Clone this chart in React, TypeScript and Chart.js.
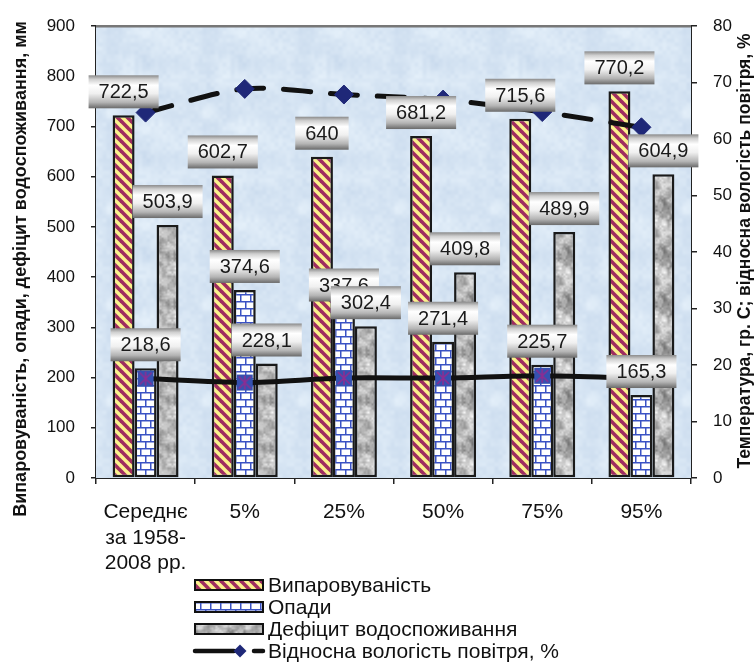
import React, { useEffect, useRef } from "react";
import { Chart, registerables } from "chart.js";

Chart.register(...registerables);

const categories: (string | string[])[] = [["Середнє", "за 1958-", "2008 рр."], "5%", "25%", "50%", "75%", "95%"];
const evaporation = [722.5, 602.7, 640, 681.2, 715.6, 770.2];
const precipitation = [218.6, 374.6, 337.6, 271.4, 225.7, 165.3];
const deficit = [503.9, 228.1, 302.4, 409.8, 489.9, 604.9];
const humidity = [64.7, 68.9, 67.9, 67.0, 64.8, 62.1];
const temperature = [17.6, 16.9, 17.7, 17.7, 18.1, 17.6];
const seriesNames = [
  "Випаровуваність",
  "Опади",
  "Дефіцит водоспоживання",
  "Відносна вологість повітря, %",
  "Температура, гр. С",
];
const leftTitle = "Випаровуваність, опади, дефіцит водоспоживання, мм";
const rightTitle = "Температура, гр. С; відносна вологість повітря, %";
const leftMin = 0;
const leftMax = 900;
const leftStep = 100;
const rightMin = 0;
const rightMax = 80;
const rightStep = 10;

const FONT = "'Liberation Sans', Arial, Helvetica, sans-serif";

function hash(x: number, y: number, s: number): number {
  let h = (Math.imul(x, 374761393) + Math.imul(y, 668265263) + Math.imul(s, 1274126177)) | 0;
  h = Math.imul(h ^ (h >>> 13), 1274126177);
  h ^= h >>> 16;
  return (h >>> 0) / 4294967295;
}

function valueNoise(size: number, cell: number, seed: number): Float32Array {
  const g = Math.round(size / cell);
  const out = new Float32Array(size * size);
  for (let y = 0; y < size; y++) {
    for (let x = 0; x < size; x++) {
      const gx = x / cell;
      const gy = y / cell;
      const i0 = Math.floor(gx);
      const j0 = Math.floor(gy);
      let fx = gx - i0;
      let fy = gy - j0;
      fx = fx * fx * (3 - 2 * fx);
      fy = fy * fy * (3 - 2 * fy);
      const i1 = (i0 + 1) % g;
      const j1 = (j0 + 1) % g;
      const a = hash(i0 % g, j0 % g, seed);
      const b = hash(i1, j0 % g, seed);
      const c = hash(i0 % g, j1, seed);
      const d = hash(i1, j1, seed);
      out[y * size + x] = (a * (1 - fx) + b * fx) * (1 - fy) + (c * (1 - fx) + d * fx) * fy;
    }
  }
  return out;
}

function makeTile(w: number, h: number): [HTMLCanvasElement, CanvasRenderingContext2D] {
  const c = document.createElement("canvas");
  c.width = w;
  c.height = h;
  return [c, c.getContext("2d")!];
}

function stripeTile(): HTMLCanvasElement {
  const [c, g] = makeTile(10, 10);
  g.fillStyle = "#fbf18c";
  g.fillRect(0, 0, 10, 10);
  g.strokeStyle = "#9e2d5f";
  g.lineWidth = 3.6;
  for (const o of [-10, 0, 10]) {
    g.beginPath();
    g.moveTo(o - 2, -2);
    g.lineTo(o + 12, 12);
    g.stroke();
  }
  return c;
}

function brickTile(): HTMLCanvasElement {
  const [c, g] = makeTile(20, 14);
  g.fillStyle = "#ffffff";
  g.fillRect(0, 0, 20, 14);
  g.strokeStyle = "#3a52c4";
  g.lineWidth = 1.5;
  g.beginPath();
  g.moveTo(0, 0.75);
  g.lineTo(20, 0.75);
  g.moveTo(0, 7.75);
  g.lineTo(20, 7.75);
  g.moveTo(0.75, 0);
  g.lineTo(0.75, 7);
  g.moveTo(10.75, 0);
  g.lineTo(10.75, 7);
  g.moveTo(5.75, 7);
  g.lineTo(5.75, 14);
  g.moveTo(15.75, 7);
  g.lineTo(15.75, 14);
  g.stroke();
  return c;
}

function grayTile(): HTMLCanvasElement {
  const size = 48;
  const [c, g] = makeTile(size, size);
  const n1 = valueNoise(size, 8, 3);
  const n2 = valueNoise(size, 4, 7);
  const n3 = valueNoise(size, 2, 11);
  const img = g.createImageData(size, size);
  for (let i = 0; i < size * size; i++) {
    const v = 0.5 * n1[i] + 0.3 * n2[i] + 0.2 * n3[i];
    const k = Math.max(70, Math.min(245, 95 + v * 175));
    img.data[i * 4] = k;
    img.data[i * 4 + 1] = k;
    img.data[i * 4 + 2] = k;
    img.data[i * 4 + 3] = 255;
  }
  g.putImageData(img, 0, 0);
  return c;
}

function bgTile(): HTMLCanvasElement {
  const size = 96;
  const [c, g] = makeTile(size, size);
  const n1 = valueNoise(size, 16, 21);
  const n2 = valueNoise(size, 4, 23);
  const img = g.createImageData(size, size);
  for (let i = 0; i < size * size; i++) {
    const v = 0.65 * n1[i] + 0.35 * n2[i] - 0.5;
    img.data[i * 4] = 216 + v * 30;
    img.data[i * 4 + 1] = 230 + v * 24;
    img.data[i * 4 + 2] = 244 + v * 14;
    img.data[i * 4 + 3] = 255;
  }
  g.putImageData(img, 0, 0);
  return c;
}

function tempMarker(): HTMLCanvasElement {
  const [c, g] = makeTile(18, 18);
  g.fillStyle = "#3551b0";
  g.fillRect(1, 1, 16, 16);
  g.strokeStyle = "#8e2d92";
  g.lineWidth = 1.6;
  g.beginPath();
  g.moveTo(3, 3);
  g.lineTo(15, 15);
  g.moveTo(15, 3);
  g.lineTo(3, 15);
  g.moveTo(9, 2);
  g.lineTo(9, 16);
  g.stroke();
  return c;
}

function fmt(v: number): string {
  return String(v).replace(".", ",");
}

export default function App() {
  const ref = useRef<HTMLCanvasElement>(null);

  useEffect(() => {
    document.body.style.margin = "0";
    const canvas = ref.current!;
    const ctx0 = canvas.getContext("2d")!;
    const stripes = ctx0.createPattern(stripeTile(), "repeat")!;
    const bricks = ctx0.createPattern(brickTile(), "repeat")!;
    const gray = ctx0.createPattern(grayTile(), "repeat")!;
    const bg = ctx0.createPattern(bgTile(), "repeat")!;
    const marker = tempMarker();
    const patterns = [stripes, bricks, gray];

    const decor = {
      id: "decor",
      beforeDatasetsDraw(chart: any) {
        const { ctx, chartArea: a } = chart;
        ctx.save();
        ctx.fillStyle = bg;
        ctx.fillRect(a.left, a.top, a.right - a.left, a.bottom - a.top);
        ctx.strokeStyle = "#777";
        ctx.lineWidth = 2.5;
        ctx.beginPath();
        ctx.moveTo(a.left, a.top);
        ctx.lineTo(a.right, a.top);
        ctx.stroke();
        ctx.restore();
      },
      afterDatasetsDraw(chart: any) {
        const { ctx } = chart;
        ctx.save();
        ctx.font = `20px ${FONT}`;
        ctx.textAlign = "center";
        ctx.textBaseline = "middle";
        for (let d = 0; d < 3; d++) {
          const meta = chart.getDatasetMeta(d);
          const values = chart.data.datasets[d].data as number[];
          meta.data.forEach((el: any, i: number) => {
            const txt = fmt(values[i]);
            const tw = ctx.measureText(txt).width;
            const w = tw + 20;
            const h = 33;
            const bottom = el.y - 7;
            const top = bottom - h;
            const left = el.x - w / 2;
            const gr = ctx.createLinearGradient(0, top, 0, bottom);
            gr.addColorStop(0, "#8a8a8a");
            gr.addColorStop(0.12, "#cfcfcf");
            gr.addColorStop(0.3, "#ffffff");
            gr.addColorStop(0.55, "#f0f0f0");
            gr.addColorStop(0.82, "#b4b4b4");
            gr.addColorStop(1, "#6a6a6a");
            ctx.fillStyle = gr;
            ctx.fillRect(left, top, w, h);
            ctx.fillStyle = "#1a1a1a";
            ctx.fillText(txt, el.x, top + h / 2 + 1);
          });
        }
        ctx.restore();
      },
      afterDraw(chart: any) {
        const { ctx } = chart;
        ctx.save();
        // axis titles
        ctx.fillStyle = "#111";
        ctx.textAlign = "center";
        ctx.textBaseline = "middle";
        ctx.font = `bold 18px ${FONT}`;
        ctx.save();
        ctx.translate(21, 269);
        ctx.rotate(-Math.PI / 2);
        ctx.fillText(leftTitle, 0, 0);
        ctx.restore();
        ctx.font = `bold 17.5px ${FONT}`;
        ctx.save();
        ctx.translate(745, 251);
        ctx.rotate(-Math.PI / 2);
        ctx.fillText(rightTitle, 0, 0);
        ctx.restore();

        // legend
        const lx = 195;
        const lw = 68;
        const rows = [585, 607, 629, 651];
        ctx.font = `21px ${FONT}`;
        ctx.textAlign = "left";
        for (let i = 0; i < 3; i++) {
          const cy = rows[i];
          ctx.fillStyle = patterns[i];
          ctx.fillRect(lx, cy - 5, lw, 10);
          ctx.strokeStyle = "#111";
          ctx.lineWidth = 2;
          ctx.strokeRect(lx, cy - 5, lw, 10);
          ctx.fillStyle = "#111";
          ctx.fillText(seriesNames[i], 268, cy + 1);
        }
        const cy = rows[3];
        ctx.strokeStyle = "#111";
        ctx.lineWidth = 4.5;
        ctx.lineCap = "round";
        ctx.beginPath();
        ctx.moveTo(195, cy);
        ctx.lineTo(234, cy);
        ctx.moveTo(254, cy);
        ctx.lineTo(263, cy);
        ctx.stroke();
        ctx.fillStyle = "#1f2878";
        ctx.beginPath();
        ctx.moveTo(240 - 6.5, cy);
        ctx.lineTo(240, cy - 6.5);
        ctx.lineTo(240 + 6.5, cy);
        ctx.lineTo(240, cy + 6.5);
        ctx.closePath();
        ctx.fill();
        ctx.fillStyle = "#111";
        ctx.fillText(seriesNames[3], 268, cy + 1);
        ctx.restore();
      },
    };

    const barCommon = {
      borderColor: "#1a1a1a",
      borderWidth: 2.5,
      borderSkipped: false,
      yAxisID: "y",
      order: 2,
      categoryPercentage: 0.665,
      barPercentage: 1,
    };

    const chart = new Chart(canvas, {
      type: "bar",
      data: {
        labels: categories as any,
        datasets: [
          { type: "bar", label: seriesNames[0], data: evaporation, backgroundColor: stripes, ...barCommon } as any,
          { type: "bar", label: seriesNames[1], data: precipitation, backgroundColor: bricks, ...barCommon } as any,
          { type: "bar", label: seriesNames[2], data: deficit, backgroundColor: gray, ...barCommon } as any,
          {
            type: "line",
            label: seriesNames[3],
            data: humidity,
            yAxisID: "y1",
            borderColor: "#111",
            borderWidth: 5,
            borderDash: [27, 20],
            borderCapStyle: "round",
            tension: 0.3,
            pointStyle: "rectRot",
            pointRadius: 9.5,
            pointBackgroundColor: "#1f2878",
            pointBorderColor: "#1f2878",
            pointBorderWidth: 1,
            order: 0,
          } as any,
          {
            type: "line",
            label: seriesNames[4],
            data: temperature,
            yAxisID: "y1",
            borderColor: "#111",
            borderWidth: 5,
            tension: 0.3,
            pointStyle: marker,
            pointRadius: 9,
            order: 1,
          } as any,
        ],
      },
      options: {
        responsive: false,
        devicePixelRatio: 1,
        animation: false,
        events: [],
        layout: { padding: { top: 23, left: 0, right: 0, bottom: 0 } },
        plugins: {
          legend: { display: false },
          tooltip: { enabled: false },
        },
        scales: {
          x: {
            grid: {
              display: true,
              drawOnChartArea: false,
              drawTicks: true,
              tickLength: 6,
              color: "#222",
              lineWidth: 1.5,
              offset: true,
            },
            border: { display: true, color: "#222", width: 2 },
            ticks: {
              font: { size: 21, family: FONT, lineHeight: 1.2 },
              color: "#111",
              padding: 16,
              maxRotation: 0,
              autoSkip: false,
            },
            afterFit: (s: any) => {
              s.height = 186;
            },
          },
          y: {
            position: "left",
            min: leftMin,
            max: leftMax,
            ticks: {
              stepSize: leftStep,
              font: { size: 17, family: FONT },
              color: "#111",
              padding: 16,
            },
            grid: { drawOnChartArea: false, tickLength: 5, color: "#222", lineWidth: 1.5 },
            border: { display: true, color: "#222", width: 2 },
            afterFit: (s: any) => {
              s.width = 96;
            },
          },
          y1: {
            position: "right",
            min: rightMin,
            max: rightMax,
            ticks: {
              stepSize: rightStep,
              font: { size: 17, family: FONT },
              color: "#111",
              padding: 16,
            },
            grid: { drawOnChartArea: false, tickLength: 6, color: "#222", lineWidth: 1.5 },
            border: { display: true, color: "#222", width: 2 },
            afterFit: (s: any) => {
              s.width = 65;
            },
          },
        },
      } as any,
      plugins: [decor],
    });

    return () => chart.destroy();
  }, []);

  return <canvas ref={ref} width={756} height={664} style={{ display: "block", width: 756, height: 664 }} />;
}
